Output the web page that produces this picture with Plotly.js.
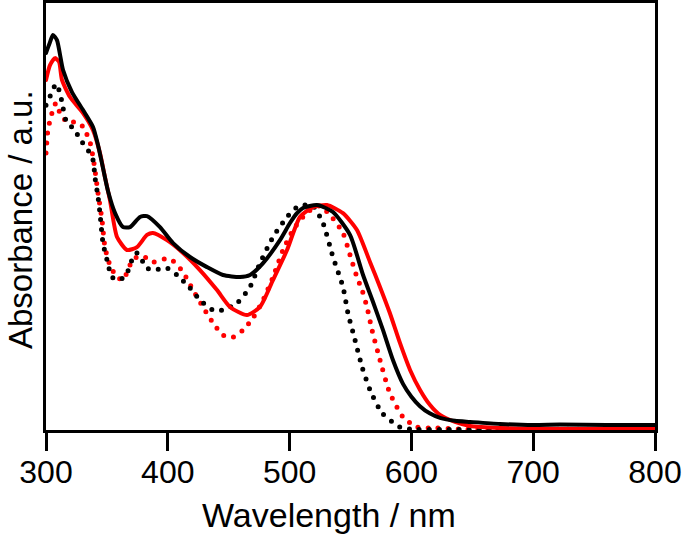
<!DOCTYPE html>
<html>
<head>
<meta charset="utf-8">
<script src="https://cdn.plot.ly/plotly-3.0.1.min.js"></script>
<style>
  html, body { margin: 0; padding: 0; background: #fff; }
  #chart { width: 685px; height: 540px; }
  .scatterlayer path.js-line { stroke-linecap: round !important; }
</style>
</head>
<body>
<div id="chart"></div>
<script>
// Black solid
const bsWl  = [300, 303.3, 305.7, 309, 314, 321.3, 330.4, 338.6, 342.7, 346.8, 350.9, 356.7, 363.2, 369, 377.2, 382.9, 393.6, 404.3, 418.2, 432.2, 445.3, 459.3, 467.5, 478.2, 492.1, 500.3, 506.1, 511, 522.5, 535.6, 549.6, 560.3, 568.5, 576.7, 584.9, 593.1, 600, 607, 615, 623.5, 635.8, 648.1, 672.7, 700, 722, 760, 800];
const bsAbs = [1.676, 1.724, 1.756, 1.733, 1.600, 1.502, 1.422, 1.347, 1.267, 1.164, 1.062, 0.964, 0.902, 0.902, 0.947, 0.951, 0.902, 0.831, 0.769, 0.724, 0.689, 0.680, 0.689, 0.742, 0.844, 0.920, 0.964, 0.987, 1.000, 0.969, 0.867, 0.689, 0.569, 0.444, 0.310, 0.205, 0.148, 0.106, 0.074, 0.054, 0.041, 0.036, 0.027, 0.022, 0.024, 0.022, 0.022];

// Red solid
const rsWl  = [300, 303.3, 307.4, 310.7, 313.1, 319.7, 330.4, 338.6, 344.3, 348.4, 352.5, 358.3, 366.5, 374.7, 382.9, 387.8, 399.3, 412.5, 426.4, 440.4, 451.1, 465, 475.7, 486.4, 497.9, 508.5, 519.2, 530.7, 543.8, 555.3, 566, 574.2, 582.3, 590.6, 598.9, 607.1, 615.3, 623.5, 635.8, 648.1, 672.7, 800];
const rsAbs = [1.556, 1.622, 1.653, 1.636, 1.556, 1.480, 1.409, 1.333, 1.231, 1.124, 1.022, 0.858, 0.800, 0.813, 0.867, 0.876, 0.844, 0.787, 0.711, 0.622, 0.547, 0.511, 0.547, 0.667, 0.800, 0.947, 0.991, 1.000, 0.964, 0.889, 0.747, 0.636, 0.520, 0.387, 0.267, 0.178, 0.111, 0.067, 0.036, 0.018, 0.009, 0.004];

// Black dotted
const bdWl  = [300, 304.9, 308.2, 311.5, 314, 317.2, 322.2, 329.6, 334.5, 338.6, 340.2, 342.7, 344.3, 346.8, 350.1, 354.2, 360.8, 366.5, 370.6, 374.7, 382.9, 387.8, 399.3, 407.6, 418.2, 426.4, 437.1, 445.3, 456.8, 467.5, 475.7, 486.4, 497.9, 506.1, 512.6, 519.2, 527.4, 535.6, 543.8, 547.9, 553.7, 559.5, 566, 575.9, 590.6, 598.9, 623.5, 800];
const bdAbs = [1.444, 1.502, 1.538, 1.498, 1.431, 1.364, 1.342, 1.280, 1.244, 1.200, 1.124, 1.036, 0.964, 0.831, 0.756, 0.680, 0.667, 0.698, 0.756, 0.787, 0.720, 0.711, 0.720, 0.689, 0.631, 0.578, 0.533, 0.533, 0.564, 0.636, 0.742, 0.858, 0.947, 0.991, 1.000, 0.996, 0.920, 0.769, 0.636, 0.520, 0.400, 0.280, 0.178, 0.076, 0.013, 0.004, 0.002, 0.002];

// Red dotted
const rdWl  = [300, 301.6, 304.9, 308.2, 311.5, 317.2, 325.5, 330.4, 336.1, 338.6, 340.2, 342.7, 346, 348.4, 352.5, 358.3, 363.2, 369, 373, 379.6, 387.8, 397.7, 404.3, 412.5, 420.7, 428.9, 437.1, 445.3, 453.5, 461.7, 469.9, 478.2, 486.4, 494.6, 502.8, 511, 519.2, 525, 533.2, 543.8, 549.6, 555.3, 559.5, 563.5, 567.7, 574.2, 582.3, 593.1, 604.6, 621, 640, 800];
const rdAbs = [1.231, 1.333, 1.409, 1.453, 1.409, 1.369, 1.369, 1.347, 1.280, 1.213, 1.156, 1.053, 0.933, 0.813, 0.733, 0.680, 0.667, 0.733, 0.764, 0.773, 0.747, 0.760, 0.751, 0.702, 0.622, 0.547, 0.476, 0.422, 0.413, 0.444, 0.498, 0.578, 0.680, 0.800, 0.889, 0.947, 0.987, 0.996, 0.956, 0.876, 0.778, 0.680, 0.622, 0.547, 0.444, 0.311, 0.164, 0.058, 0.013, 0.009, 0.004, 0.004];

const xTicks = [300, 400, 500, 600, 700, 800];
const xTitle = 'Wavelength / nm';
const yTitle = 'Absorbance / a.u.';

const dotted = { width: 5, dash: '0px,10px', shape: 'spline', smoothing: 0.6 };
const solid  = { width: 4, shape: 'spline', smoothing: 0.6 };

const traces = [
  { x: rdWl, y: rdAbs, mode: 'lines', line: Object.assign({ color: '#ff0000' }, dotted) },
  { x: bdWl, y: bdAbs, mode: 'lines', line: Object.assign({ color: '#000000' }, dotted) },
  { x: rsWl, y: rsAbs, mode: 'lines', line: Object.assign({ color: '#ff0000' }, solid) },
  { x: bsWl, y: bsAbs, mode: 'lines', line: Object.assign({ color: '#000000' }, solid) }
];

const font = 'Arial, "Liberation Sans", sans-serif';

const layout = {
  width: 685, height: 540,
  margin: { l: 46, r: 30, t: 3, b: 110 },
  paper_bgcolor: '#ffffff', plot_bgcolor: '#ffffff',
  showlegend: false,
  font: { family: font, color: '#000000' },
  xaxis: {
    range: [300, 800], tickvals: xTicks, ticktext: xTicks.map(String),
    showgrid: false, zeroline: false,
    showline: true, linecolor: '#000', linewidth: 3, mirror: true,
    ticks: 'outside', ticklen: 18, tickwidth: 3, tickcolor: '#000',
    ticklabelstandoff: -6,
    tickfont: { size: 32, family: font, color: '#000' }
  },
  yaxis: {
    range: [0, 1.898],
    showgrid: false, zeroline: false,
    showline: true, linecolor: '#000', linewidth: 3, mirror: true,
    ticks: '', showticklabels: false
  },
  annotations: [
    {
      text: xTitle, xref: 'paper', yref: 'paper',
      x: 0.4647, y: -0.199, xanchor: 'center', yanchor: 'middle',
      showarrow: false, font: { size: 34, family: font, color: '#000' }
    },
    {
      text: yTitle, xref: 'paper', yref: 'paper', textangle: -90,
      x: -0.0427, y: 0.494, xanchor: 'center', yanchor: 'middle',
      showarrow: false, font: { size: 33, family: font, color: '#000' }
    }
  ]
};

Plotly.newPlot('chart', traces, layout, { displayModeBar: false, staticPlot: true });
</script>
</body>
</html>
